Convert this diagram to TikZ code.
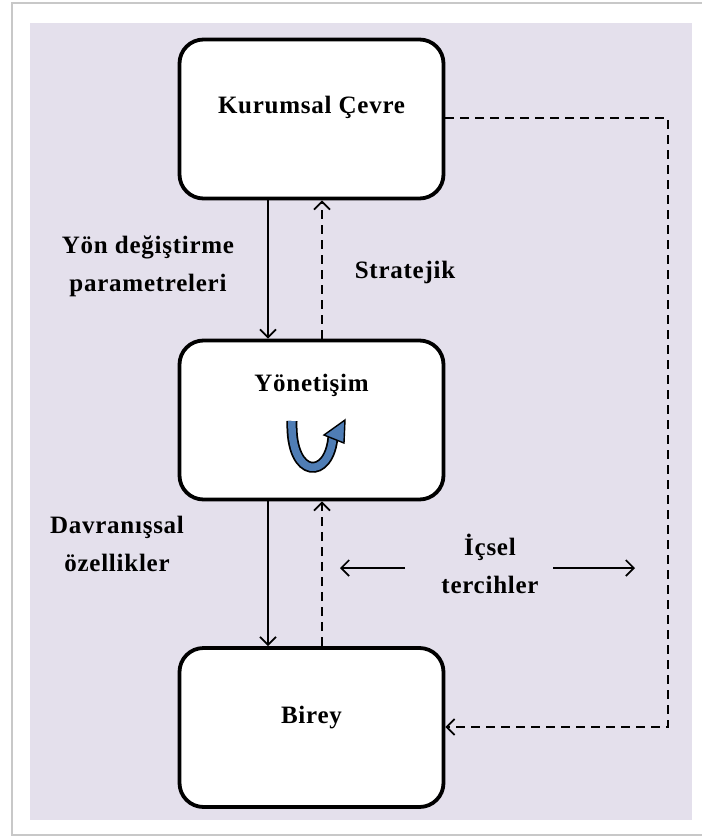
\documentclass[tikz,border=0pt]{standalone}
\usepackage{fontspec}
\setmainfont{Liberation Serif}
\usetikzlibrary{arrows.meta,calc}
\definecolor{lav}{HTML}{E4E0EC}
\definecolor{frameline}{HTML}{C8C8C8}
\definecolor{iconblue}{HTML}{4F7DB5}
\begin{document}
\begin{tikzpicture}[x=1pt,y=-1pt,
  block/.style={draw=black,line width=3.8pt,fill=white,rounded corners=24pt,
    minimum width=264pt,minimum height=159pt,inner sep=0pt},
  lbl/.style={font=\fontsize{25}{38}\selectfont\bfseries\addfontfeatures{LetterSpace=3},
    align=center,inner sep=0pt},
  tip/.style={-{Straight Barb[length=8pt,width=16pt,line width=1.7pt]}},
  solidarr/.style={tip,line width=1.7pt},
  dasharr/.style={tip,line width=1.9pt,dash pattern=on 9pt off 6pt}]
  \useasboundingbox (0,0) rectangle (702,836);
  % page frame and panel
  \fill[white] (0,0) rectangle (702,836);
  \draw[frameline,line width=1.2pt] (702,3) -- (12,3) -- (12,835) -- (702,835);
  \fill[lav] (30,23) rectangle (692,820);

  % the three blocks
  \node[block] (kc) at (311.5,119) {};
  \node[block] (yo) at (311.5,420) {};
  \node[block] (bi) at (311.5,727.5) {};
  \node[lbl] (kct) at (311.5,107) {Kurumsal Çevre};
  \node[lbl] (yot) at (311.5,385) {Yönetişim};
  \node[lbl] (bit) at (311.5,718) {Birey};

  % links between the blocks
  \draw[solidarr] ($(kc.south)+(-43.5,0)$) -- ($(yo.north)+(-43.5,0)$);
  \draw[dasharr] ($(yo.north)+(10.5,0)$) -- ($(kc.south)+(10.5,0)$);
  \draw[solidarr] ($(yo.south)+(-43.5,0)$) -- ($(bi.north)+(-43.5,0)$);
  \draw[dasharr] ($(bi.north)+(10.5,0)$) -- ($(yo.south)+(10.5,0)$);
  \coordinate (c1) at (668,118);
  \coordinate (c2) at (668,727);
  \draw[dasharr] (kc.east |- c1) -- (c1) -- (c2) -- (bi.east |- c2);

  % labels
  \node[lbl] (ydp) at (148,266) {Yön değiştirme\\parametreleri};
  \node[lbl] (str) at (405,272) {Stratejik};
  \node[lbl] (dav) at (117,544) {Davranışsal\\özellikler};
  \node[lbl] (ict) at (490,564) {İçsel\\tercihler};
  \coordinate (la) at (405,568);
  \coordinate (lb) at (340,568);
  \coordinate (ra) at (553,568);
  \coordinate (rb) at (635,568);
  \draw[solidarr] (la) -- (lb);
  \draw[solidarr] (ra) -- (rb);

  % curved arrow icon inside the governance block
  \coordinate (u0) at (292,421);
  \coordinate (u1) at (333,436);
  \draw[black,line width=11pt] (u0) .. controls (290,480) and (330,480) .. (u1);
  \draw[iconblue,line width=7.5pt] (u0) .. controls (290,480) and (330,480) .. (u1);
  \filldraw[fill=iconblue,draw=black,line width=1.4pt,line join=miter]
    (324,435) -- (345,420) -- (344,443) -- cycle;
\end{tikzpicture}
\end{document}
